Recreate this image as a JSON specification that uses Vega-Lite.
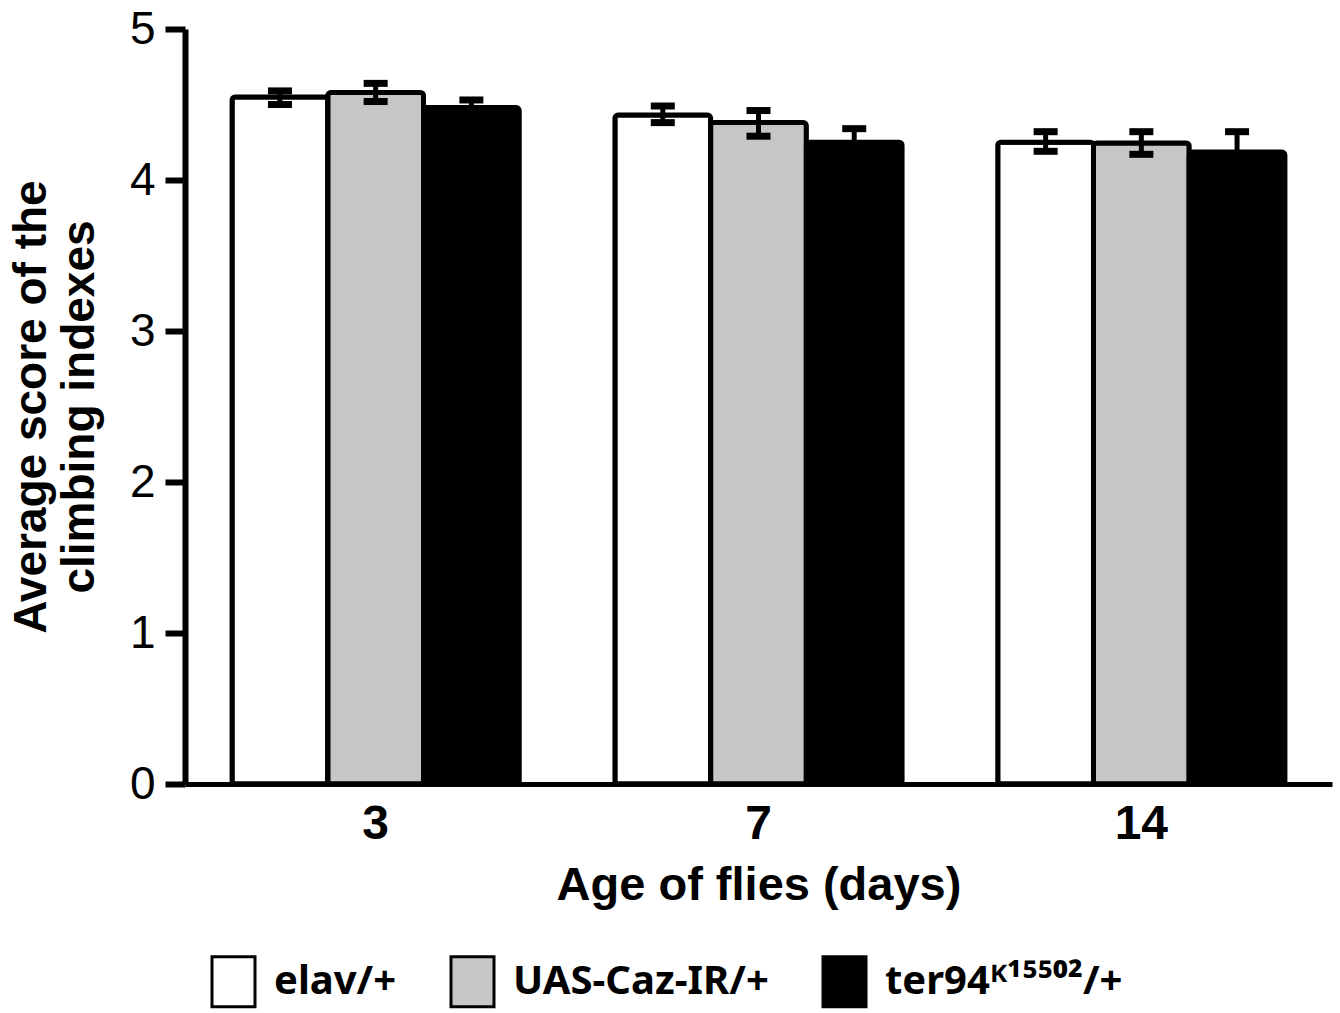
{
  "$schema": "https://vega.github.io/schema/vega-lite/v6.json",
  "autosize": "none",
  "width": 1147,
  "height": 755,
  "padding": {"left": 185, "top": 29, "right": 8, "bottom": 229},
  "background": "white",
  "config": {
    "view": {"stroke": null},
    "font": "Liberation Sans",
    "axis": {"grid": false, "domainColor": "black", "tickColor": "black", "labelColor": "black", "titleColor": "black"}
  },
  "data": {
    "values": [
      {"age": "3", "genotype": "elav/+", "mean": 4.55, "lo": 4.50, "hi": 4.59},
      {"age": "3", "genotype": "UAS-Caz-IR/+", "mean": 4.58, "lo": 4.52, "hi": 4.64},
      {"age": "3", "genotype": "ter94ᴷ¹⁵⁵⁰²/+", "mean": 4.48, "lo": 4.42, "hi": 4.53},
      {"age": "7", "genotype": "elav/+", "mean": 4.43, "lo": 4.38, "hi": 4.49},
      {"age": "7", "genotype": "UAS-Caz-IR/+", "mean": 4.38, "lo": 4.29, "hi": 4.46},
      {"age": "7", "genotype": "ter94ᴷ¹⁵⁵⁰²/+", "mean": 4.25, "lo": 4.16, "hi": 4.34},
      {"age": "14", "genotype": "elav/+", "mean": 4.25, "lo": 4.19, "hi": 4.32},
      {"age": "14", "genotype": "UAS-Caz-IR/+", "mean": 4.245, "lo": 4.17, "hi": 4.32},
      {"age": "14", "genotype": "ter94ᴷ¹⁵⁵⁰²/+", "mean": 4.185, "lo": 4.05, "hi": 4.32}
    ]
  },
  "encoding": {
    "x": {
      "field": "age", "type": "nominal", "sort": ["3", "7", "14"],
      "scale": {"paddingInner": 0.25, "paddingOuter": 0.123},
      "axis": {
        "title": "Age of flies (days)", "labelAngle": 0, "ticks": false,
        "domainWidth": 5, "labelFontSize": 48, "labelFontWeight": "bold",
        "labelPadding": 16, "titleFontSize": 47, "titleFontWeight": "bold", "titlePadding": 14
      }
    },
    "xOffset": {"field": "genotype", "type": "nominal", "sort": ["elav/+", "UAS-Caz-IR/+", "ter94ᴷ¹⁵⁵⁰²/+"], "scale": {"paddingInner": 0, "paddingOuter": 0}}
  },
  "layer": [
    {
      "mark": {"type": "bar", "stroke": "black", "strokeWidth": 5, "cornerRadius": 3},
      "encoding": {
        "y": {
          "field": "mean", "type": "quantitative",
          "scale": {"domain": [0, 5], "nice": false},
          "axis": {
            "title": ["Average score of the", "climbing indexes"],
            "values": [0, 1, 2, 3, 4, 5], "format": "d",
            "domainWidth": 6, "tickWidth": 6, "tickSize": 20, "labelPadding": 10,
            "labelFontSize": 46, "labelFontWeight": "normal",
            "titleFontSize": 46, "titleFontWeight": "bold", "titleLineHeight": 48, "titlePadding": 26
          }
        },
        "fill": {
          "field": "genotype", "type": "nominal",
          "scale": {"domain": ["elav/+", "UAS-Caz-IR/+", "ter94ᴷ¹⁵⁵⁰²/+"], "range": ["white", "#c6c6c6", "black"]},
          "legend": {
            "title": null, "orient": "none", "direction": "horizontal",
            "legendX": 22, "legendY": 926,
            "symbolType": "M-0.86,-1H0.86V1H-0.86Z", "symbolSize": 2500,
            "symbolStrokeColor": "black", "symbolStrokeWidth": 3, "symbolOpacity": 1,
            "labelFont": "Noto Sans", "labelFontSize": 40, "labelFontWeight": "bold", "labelColor": "black",
            "labelOffset": 14, "columnPadding": 48, "labelLimit": 400
          }
        }
      }
    },
    {
      "mark": {"type": "rule", "strokeWidth": 5, "color": "black"},
      "encoding": {
        "y": {"field": "lo", "type": "quantitative"},
        "y2": {"field": "hi"}
      }
    },
    {
      "mark": {"type": "tick", "color": "black", "size": 24, "thickness": 7, "opacity": 1},
      "encoding": {"y": {"field": "lo", "type": "quantitative"}}
    },
    {
      "mark": {"type": "tick", "color": "black", "size": 24, "thickness": 7, "opacity": 1},
      "encoding": {"y": {"field": "hi", "type": "quantitative"}}
    }
  ]
}
